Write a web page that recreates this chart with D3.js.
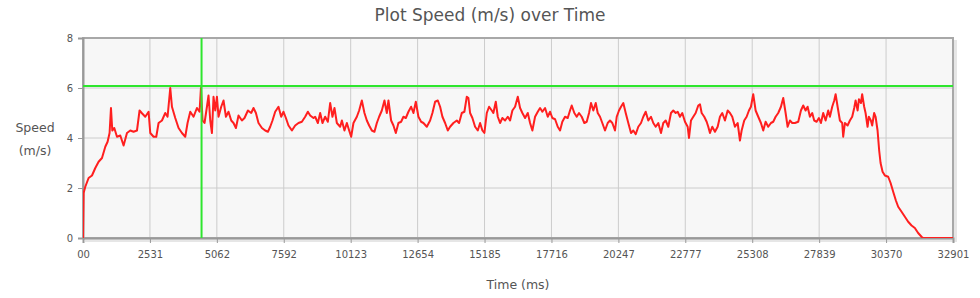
<!DOCTYPE html>
<html>
<head>
<meta charset="utf-8">
<script src="https://cdn.jsdelivr.net/npm/d3@7"></script>
<style>
  body { margin: 0; background: #fff; }
  #chart { width: 980px; height: 298px; }
  text { font-family: "DejaVu Sans", Verdana, sans-serif; fill: #555; }
</style>
</head>
<body>
<div id="chart"></div>
<script>
// Set dimensions and margins
const width = 980;
const height = 298;
const margin = { top: 38, right: 27, bottom: 60, left: 83 };

// Time (ms) and speed (m/s)
const times = [
  0, 23, 87, 212, 340, 465, 590, 718, 843, 930, 1005, 1058, 1107, 1183, 1285, 1410, 1535, 1663, 1788, 1912,
  2041, 2139, 2230, 2355, 2480, 2544, 2669, 2771, 2858, 2986, 3111, 3198, 3300, 3364, 3489, 3614, 3742, 3867, 3954, 4056,
  4181, 4309, 4407, 4460, 4521, 4596, 4687, 4747, 4812, 4876, 4936, 5001, 5065, 5125, 5227, 5314, 5405, 5503, 5606, 5692,
  5783, 5881, 6010, 6108, 6237, 6361, 6448, 6539, 6637, 6766, 6890, 6993, 7080, 7166, 7268, 7393, 7495, 7582, 7673, 7771,
  7900, 8024, 8149, 8277, 8402, 8504, 8591, 8716, 8780, 8882, 8969, 9056, 9158, 9260, 9347, 9434, 9510, 9600, 9725, 9790,
  9888, 9978, 10065, 10141, 10228, 10356, 10443, 10545, 10644, 10734, 10821, 10923, 11022, 11112, 11199, 11301, 11400, 11490, 11551, 11653,
  11740, 11830, 11929, 12031, 12118, 12208, 12307, 12409, 12496, 12586, 12685, 12787, 12874, 13002, 13127, 13214, 13316, 13418, 13505, 13592,
  13694, 13796, 13883, 14008, 14136, 14223, 14325, 14423, 14514, 14575, 14639, 14726, 14828, 14930, 15017, 15104, 15179, 15270, 15357, 15459,
  15519, 15610, 15686, 15773, 15860, 15962, 16064, 16151, 16238, 16340, 16442, 16529, 16616, 16718, 16820, 16907, 16994, 17096, 17198, 17285,
  17372, 17474, 17576, 17663, 17750, 17853, 17953, 18041, 18127, 18229, 18331, 18418, 18482, 18581, 18671, 18758, 18860, 18959, 19050, 19137,
  19212, 19299, 19390, 19466, 19552, 19639, 19741, 19843, 19930, 20017, 20119, 20184, 20271, 20346, 20433, 20524, 20622, 20724, 20811, 20902,
  21000, 21102, 21189, 21280, 21378, 21480, 21567, 21658, 21756, 21858, 21945, 22036, 22134, 22236, 22323, 22414, 22489, 22576, 22663, 22765,
  22867, 22917, 22992, 23079, 23169, 23268, 23332, 23396, 23494, 23585, 23646, 23710, 23797, 23899, 24001, 24088, 24175, 24277, 24379, 24466,
  24553, 24655, 24757, 24844, 24908, 25006, 25097, 25184, 25259, 25346, 25437, 25536, 25638, 25725, 25815, 25914, 26016, 26103, 26193, 26292,
  26394, 26481, 26571, 26647, 26734, 26821, 26923, 27048, 27150, 27237, 27327, 27403, 27490, 27577, 27652, 27743, 27830, 27906, 27993, 28083,
  28182, 28246, 28333, 28409, 28462, 28537, 28624, 28711, 28749, 28813, 28915, 29002, 29089, 29165, 29218, 29294, 29343, 29419, 29466, 29542,
  29595, 29670, 29719, 29795, 29844, 29920, 29973, 30048, 30109, 30162, 30238, 30325, 30450, 30541, 30639, 30741, 30828, 30956, 31081, 31206,
  31334, 31458, 31583, 31711, 31771, 32901
];
const speeds = [
  0, 1.8, 2.05, 2.4, 2.5, 2.8, 3.05, 3.2, 3.65, 3.85, 4.2, 5.2, 4.3, 4.4, 4.05, 4.1, 3.7, 4.2, 4.3, 4.25,
  4.3, 5.1, 4.99, 4.85, 5.05, 4.2, 4.05, 4.05, 4.6, 4.7, 5.0, 4.85, 6.0, 5.25, 4.8, 4.4, 4.2, 4.05, 4.6, 5.05,
  4.85, 5.2, 5.05, 6.0, 4.7, 4.6, 5.25, 5.7, 4.7, 4.2, 5.65, 5.1, 5.65, 4.85, 5.25, 5.5, 4.85, 5.05, 4.7, 4.6,
  4.4, 4.9, 4.7, 4.8, 5.1, 5.0, 5.2, 5.0, 4.6, 4.4, 4.3, 4.25, 4.45, 4.7, 5.05, 5.25, 4.85, 5.05, 4.8, 4.5,
  4.3, 4.5, 4.6, 4.65, 4.85, 5.05, 4.9, 4.8, 4.85, 4.6, 5.0, 4.6, 4.85, 4.65, 5.4, 4.85, 5.2, 4.6, 4.45, 4.7,
  4.3, 4.6, 4.3, 4.05, 4.6, 4.85, 5.1, 5.5, 5.0, 4.7, 4.5, 4.3, 4.25, 4.6, 4.85, 5.1, 5.5, 5.0, 5.5, 4.7,
  4.5, 4.2, 4.6, 4.65, 4.85, 4.8, 5.05, 5.25, 5.0, 5.45, 4.85, 4.65, 4.6, 4.45, 4.7, 5.0, 5.45, 5.5, 5.25, 4.85,
  4.6, 4.3, 4.45, 4.6, 4.7, 4.6, 5.0, 5.05, 5.65, 5.6, 5.0, 4.8, 4.45, 4.3, 4.6, 4.3, 4.2, 5.0, 5.25, 5.1,
  5.0, 5.45, 4.85, 4.6, 4.8, 4.7, 4.85, 4.7, 5.1, 5.25, 5.65, 5.2, 5.0, 4.8, 5.0, 4.6, 4.3, 4.85, 5.05, 5.2,
  5.05, 5.2, 4.85, 5.05, 4.8, 4.75, 4.45, 4.3, 4.65, 4.85, 4.8, 5.1, 5.3, 5.0, 4.85, 5.0, 4.85, 4.6, 4.65, 5.0,
  5.4, 5.1, 5.4, 5.0, 4.85, 4.6, 4.3, 4.6, 4.7, 4.6, 4.3, 4.85, 5.1, 5.25, 5.4, 5.0, 4.6, 4.2, 4.3, 4.15,
  4.45, 4.6, 4.85, 5.05, 4.7, 4.85, 4.6, 4.45, 4.6, 4.2, 4.6, 4.7, 4.45, 5.0, 5.1, 5.0, 5.05, 4.85, 5.0, 4.65,
  4.45, 4.0, 4.7, 4.85, 5.0, 5.3, 5.35, 5.0, 4.85, 4.65, 4.45, 4.2, 4.45, 4.25, 4.45, 4.85, 5.0, 4.7, 5.1, 5.0,
  4.85, 4.45, 4.6, 3.9, 4.3, 4.7, 4.85, 5.1, 5.25, 5.75, 5.1, 4.85, 4.6, 4.3, 4.65, 4.45, 4.6, 4.65, 4.85, 5.0,
  5.25, 5.6, 5.0, 4.45, 4.7, 4.6, 4.6, 4.65, 5.1, 5.3, 5.1, 5.25, 4.85, 5.0, 4.7, 4.65, 4.8, 4.6, 5.0, 4.7,
  5.1, 4.85, 5.25, 5.5, 5.75, 5.25, 4.7, 4.6, 4.05, 4.6, 4.5, 4.7, 4.85, 5.2, 5.5, 5.1, 5.55, 5.4, 5.75, 5.25,
  5.0, 4.45, 4.85, 4.7, 4.5, 5.0, 4.85, 4.3, 3.5, 3.0, 2.65, 2.5, 2.45, 2.2, 1.85, 1.5, 1.25, 1.05, 0.85, 0.65,
  0.5, 0.4, 0.2, 0.05, 0, 0
];

// Axis ticks
const xTickValues = [0, 2531, 5062, 7592, 10123, 12654, 15185, 17716, 20247, 22777, 25308, 27839, 30370, 32901];
const xTickLabels = ["00", "2531", "5062", "7592", "10123", "12654", "15185", "17716", "20247", "22777", "25308", "27839", "30370", "32901"];
const yTickValues = [0, 2, 4, 6, 8];

// Reference marks (green cross-hair)
const markerTime = [4483];
const markerSpeed = [6.08];

const data = times.map((t, i) => ({ t: t, v: speeds[i] }));

// Scales
const xScale = d3.scaleLinear()
    .domain([0, 32901])
    .range([margin.left, width - margin.right]);

const yScale = d3.scaleLinear()
    .domain([0, 8])
    .range([height - margin.bottom, margin.top]);

const svg = d3.select("#chart")
    .append("svg")
    .attr("width", width)
    .attr("height", height);

const plotW = width - margin.left - margin.right;
const plotH = height - margin.top - margin.bottom;

// Frame shadow + background
svg.append("rect")
    .attr("x", margin.left + 2)
    .attr("y", margin.top + 2)
    .attr("width", plotW + 2)
    .attr("height", plotH + 2)
    .attr("fill", "#e6e6e6");

svg.append("rect")
    .attr("x", margin.left)
    .attr("y", margin.top)
    .attr("width", plotW)
    .attr("height", plotH)
    .attr("fill", "#f7f7f7");

// Grid lines
svg.append("g")
    .selectAll("line")
    .data(xTickValues)
    .enter()
    .append("line")
    .attr("x1", d => xScale(d))
    .attr("x2", d => xScale(d))
    .attr("y1", margin.top)
    .attr("y2", height - margin.bottom)
    .attr("stroke", "#cccccc")
    .attr("stroke-width", 1);

svg.append("g")
    .selectAll("line")
    .data(yTickValues)
    .enter()
    .append("line")
    .attr("x1", margin.left)
    .attr("x2", width - margin.right)
    .attr("y1", d => yScale(d))
    .attr("y2", d => yScale(d))
    .attr("stroke", "#cccccc")
    .attr("stroke-width", 1);

// Clip for the data line
svg.append("clipPath")
    .attr("id", "plot-clip")
    .append("rect")
    .attr("x", margin.left)
    .attr("y", margin.top)
    .attr("width", plotW)
    .attr("height", plotH);

// Frame border
svg.append("rect")
    .attr("x", margin.left)
    .attr("y", margin.top)
    .attr("width", plotW)
    .attr("height", plotH)
    .attr("fill", "none")
    .attr("stroke", "#a8a8a8")
    .attr("stroke-width", 2);

// Axes
const xAxis = svg.append("g")
    .attr("transform", `translate(0, ${height - margin.bottom})`)
    .call(d3.axisBottom(xScale)
        .tickValues(xTickValues)
        .tickFormat((d, i) => xTickLabels[i])
        .tickSize(5)
        .tickPadding(8));

const yAxis = svg.append("g")
    .attr("transform", `translate(${margin.left}, 0)`)
    .call(d3.axisLeft(yScale)
        .tickValues(yTickValues)
        .tickSize(5)
        .tickPadding(5));

[xAxis, yAxis].forEach(ax => {
    ax.select(".domain").attr("stroke", "#999").attr("stroke-width", 2);
    ax.selectAll(".tick line").attr("stroke", "#999");
    ax.selectAll(".tick text")
        .attr("fill", "#555")
        .style("font-family", "'DejaVu Sans', Verdana, sans-serif")
        .style("font-size", "10px");
});

// Speed line
const line = d3.line()
    .x(d => xScale(d.t))
    .y(d => yScale(d.v));

svg.append("path")
    .datum(data)
    .attr("clip-path", "url(#plot-clip)")
    .attr("fill", "none")
    .attr("stroke", "#ff1f1f")
    .attr("stroke-width", 2)
    .attr("stroke-linejoin", "round")
    .attr("d", line);

// Green markers
svg.append("line")
    .attr("x1", xScale(markerTime[0]))
    .attr("x2", xScale(markerTime[0]))
    .attr("y1", margin.top)
    .attr("y2", height - margin.bottom)
    .attr("stroke", "#2ee62e")
    .attr("stroke-width", 2);

svg.append("line")
    .attr("x1", margin.left)
    .attr("x2", width - margin.right)
    .attr("y1", yScale(markerSpeed[0]))
    .attr("y2", yScale(markerSpeed[0]))
    .attr("stroke", "#2ee62e")
    .attr("stroke-width", 2);

// Title
svg.append("text")
    .attr("x", width / 2)
    .attr("y", 21)
    .attr("text-anchor", "middle")
    .style("font-size", "17px")
    .text("Plot Speed (m/s) over Time");

// Axis labels
svg.append("text")
    .attr("x", (margin.left + width - margin.right) / 2)
    .attr("y", 289)
    .attr("text-anchor", "middle")
    .style("font-size", "12.5px")
    .text("Time (ms)");

const yLabel = svg.append("text")
    .attr("text-anchor", "middle")
    .style("font-size", "12.5px");
yLabel.append("tspan").attr("x", 35).attr("y", 132).text("Speed");
yLabel.append("tspan").attr("x", 35).attr("y", 155).text("(m/s)");
</script>
</body>
</html>
